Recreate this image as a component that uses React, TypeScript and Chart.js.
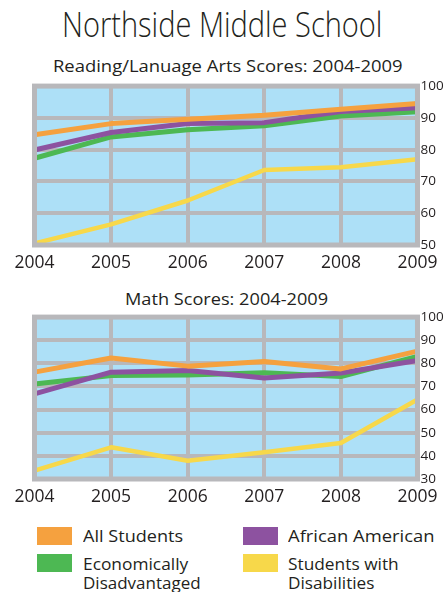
import React, { useEffect, useLayoutEffect, useRef, useState } from "react";
import { Chart, registerables } from "chart.js";

Chart.register(...registerables);

const years = ["2004", "2005", "2006", "2007", "2008", "2009"];

const readingAll = [84.7, 88.2, 89.6, 90.8, 92.7, 94.5];
const readingAfrAm = [79.9, 85.4, 88.2, 88.5, 92.0, 93.2];
const readingEcon = [77.3, 84.0, 86.3, 87.5, 90.6, 91.9];
const readingDisab = [50.5, 56.5, 64.0, 73.6, 74.5, 77.0];

const mathAll = [76.2, 82.3, 78.8, 80.8, 77.6, 85.3];
const mathAfrAm = [66.8, 76.2, 76.9, 73.7, 75.8, 81.2];
const mathEcon = [71.1, 74.7, 75.0, 75.9, 74.3, 83.0];
const mathDisab = [33.6, 43.7, 37.9, 41.6, 45.6, 64.4];

const readingRange = [50, 100];
const mathRange = [30, 100];
const yStep = 10;

const seriesNames = ["All Students", "African American", "Economically Disadvantaged", "Students with Disabilities"];

const ORANGE = "#F5A13F";
const PURPLE = "#8D52A0";
const GREEN = "#4DB853";
const YELLOW = "#F7D84A";
const BLUE = "#ADE0F7";
const GRAY = "#B8B8BB";
const TEXT = "#231F20";
const FONT = "'Open Sans', sans-serif";

const framePlugin = {
  id: "bgFrame",
  beforeDraw(chart: any) {
    const { ctx, chartArea: a } = chart;
    ctx.save();
    ctx.fillStyle = BLUE;
    ctx.fillRect(a.left, a.top, a.right - a.left, a.bottom - a.top);
    ctx.restore();
  },
  afterDatasetsDraw(chart: any) {
    const { ctx, chartArea: a } = chart;
    ctx.save();
    ctx.strokeStyle = GRAY;
    ctx.lineWidth = 5;
    ctx.strokeRect(a.left, a.top, a.right - a.left, a.bottom - a.top);
    ctx.restore();
  },
};

function makeConfig(all: number[], afr: number[], econ: number[], dis: number[], range: number[], topPad: number) {
  const ds = (label: string, data: number[], color: string, order: number, w: number) => ({
    label,
    data,
    borderColor: color,
    backgroundColor: color,
    borderWidth: w,
    pointRadius: 0,
    tension: 0,
    fill: false,
    order,
    borderJoinStyle: "round",
  });
  return {
    type: "line",
    data: {
      labels: years,
      datasets: [
        ds(seriesNames[3], dis, YELLOW, 3, 4.5),
        ds(seriesNames[2], econ, GREEN, 2, 5),
        ds(seriesNames[1], afr, PURPLE, 1, 5),
        ds(seriesNames[0], all, ORANGE, 0, 5),
      ],
    },
    options: {
      responsive: false,
      animation: false,
      devicePixelRatio: 1,
      layout: { autoPadding: false, padding: { left: 34.5, top: topPad, right: 0, bottom: 0 } },
      plugins: { legend: { display: false }, tooltip: { enabled: false }, title: { display: false } },
      scales: {
        x: {
          type: "category",
          offset: false,
          grid: { color: GRAY, lineWidth: 4, drawTicks: false },
          border: { display: false },
          ticks: { font: { family: FONT, size: 17.5 }, color: TEXT, padding: 7.5, maxRotation: 0, autoSkip: false },
          afterFit(s: any) {
            s.height = 30;
          },
        },
        y: {
          position: "right",
          min: range[0],
          max: range[1],
          grid: { color: GRAY, lineWidth: 4, drawTicks: false },
          border: { display: false },
          ticks: { stepSize: yStep, font: { family: FONT, size: 13.5 }, color: TEXT, padding: 3 },
          afterFit(s: any) {
            s.width = 27;
          },
        },
      },
    },
    plugins: [framePlugin],
  };
}

function LineChart(props: { cfg: any; top: number; height: number }) {
  const ref = useRef<HTMLCanvasElement>(null);
  useEffect(() => {
    const chart = new Chart(ref.current as HTMLCanvasElement, props.cfg);
    return () => chart.destroy();
  }, []);
  return (
    <canvas
      ref={ref}
      width={445}
      height={props.height}
      style={{ position: "absolute", left: 0, top: props.top, width: 445, height: props.height }}
    />
  );
}

function Txt(props: { text: string; x: number; baseline: number; size: number; width: number; weight?: number }) {
  const ref = useRef<HTMLSpanElement>(null);
  const [scale, setScale] = useState(1);
  useLayoutEffect(() => {
    if (ref.current) {
      const w = ref.current.offsetWidth;
      if (w > 0) setScale(props.width / w);
    }
  }, []);
  return (
    <span
      ref={ref}
      style={{
        position: "absolute",
        left: props.x,
        top: props.baseline - 0.888 * props.size,
        fontSize: props.size,
        lineHeight: `${props.size}px`,
        fontWeight: props.weight ?? 400,
        whiteSpace: "nowrap",
        transform: `scaleX(${scale})`,
        transformOrigin: "0 0",
      }}
    >
      {props.text}
    </span>
  );
}

function Swatch(props: { x: number; y: number; color: string }) {
  return (
    <div
      style={{ position: "absolute", left: props.x, top: props.y, width: 35, height: 18, background: props.color }}
    />
  );
}

export default function App() {
  const cfg1 = makeConfig(readingAll, readingAfrAm, readingEcon, readingDisab, readingRange, 10);
  const cfg2 = makeConfig(mathAll, mathAfrAm, mathEcon, mathDisab, mathRange, 10.5);
  return (
    <div
      style={{
        position: "absolute",
        left: 0,
        top: 0,
        width: 445,
        height: 592,
        overflow: "hidden",
        fontFamily: FONT,
        color: TEXT,
        background: "#fff",
      }}
    >
      <Txt text="Northside Middle School" x={62} baseline={37} size={34} width={320} weight={300} />
      <Txt text="Reading/Lanuage Arts Scores: 2004-2009" x={53} baseline={72} size={17} width={350} />
      <LineChart cfg={cfg1} top={75} height={200} />
      <Txt text="Math Scores: 2004-2009" x={125} baseline={305} size={17} width={203} />
      <LineChart cfg={cfg2} top={306} height={203} />
      <Swatch x={37} y={527} color={ORANGE} />
      <Txt text="All Students" x={83} baseline={541.7} size={17} width={100} />
      <Swatch x={243} y={527} color={PURPLE} />
      <Txt text="African American" x={288} baseline={541.7} size={17} width={146} />
      <Swatch x={37} y={554} color={GREEN} />
      <Txt text="Economically" x={83} baseline={570} size={17} width={105} />
      <Txt text="Disadvantaged" x={83} baseline={589.5} size={17} width={118} />
      <Swatch x={243} y={554} color={YELLOW} />
      <Txt text="Students with" x={288} baseline={570} size={17} width={111} />
      <Txt text="Disabilities" x={288} baseline={589.5} size={17} width={86} />
    </div>
  );
}
